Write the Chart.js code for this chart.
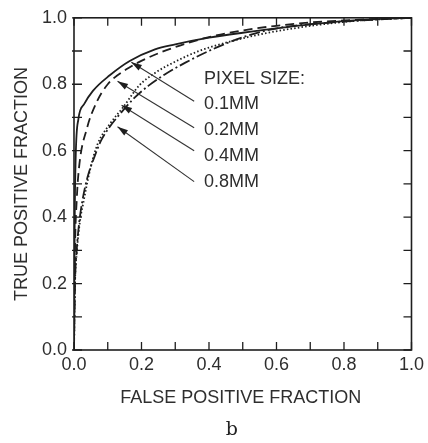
<!DOCTYPE html>
<html lang="en">
<head>
    <meta charset="UTF-8" />
    <title>ROC pixel size</title>
    <script src="https://cdn.jsdelivr.net/npm/chart.js"></script>
    <style>
        html, body { margin: 0; padding: 0; background: #fff; }
        .wrap { width: 428px; height: 443px; position: relative; }
    </style>
</head>
<body>
    <div class="wrap"><canvas id="rocChart"></canvas></div>

<script>
    // ROC curve points (false positive fraction, true positive fraction)
    const fpf01 = [0, 0.002, 0.005, 0.013, 0.03, 0.056, 0.106, 0.165, 0.24, 0.3, 0.4, 0.5, 0.6, 0.7, 0.8, 0.9, 1.0];
    const tpf01 = [0, 0.38, 0.58, 0.695, 0.74, 0.78, 0.827, 0.87, 0.905, 0.92, 0.94, 0.955, 0.968, 0.98, 0.99, 0.996, 1.0];

    const fpf02 = [0, 0.003, 0.008, 0.015, 0.038, 0.067, 0.1, 0.155, 0.22, 0.3, 0.4, 0.5, 0.6, 0.7, 0.8, 0.9, 1.0];
    const tpf02 = [0, 0.3, 0.45, 0.55, 0.666, 0.746, 0.8, 0.845, 0.88, 0.912, 0.942, 0.962, 0.976, 0.986, 0.992, 0.997, 1.0];

    const fpf04 = [0, 0.003, 0.008, 0.018, 0.027, 0.047, 0.07, 0.106, 0.145, 0.194, 0.243, 0.3, 0.37, 0.45, 0.55, 0.65, 0.75, 0.85, 1.0];
    const tpf04 = [0, 0.2, 0.29, 0.39, 0.44, 0.54, 0.62, 0.68, 0.73, 0.797, 0.836, 0.868, 0.9, 0.925, 0.95, 0.968, 0.982, 0.992, 1.0];

    const fpf08 = [0, 0.003, 0.008, 0.015, 0.025, 0.04, 0.06, 0.08, 0.106, 0.14, 0.175, 0.22, 0.27, 0.33, 0.41, 0.51, 0.61, 0.75, 0.9, 1.0];
    const tpf08 = [0, 0.2, 0.3, 0.38, 0.45, 0.52, 0.58, 0.63, 0.672, 0.715, 0.755, 0.795, 0.83, 0.865, 0.905, 0.945, 0.97, 0.985, 0.995, 1.0];

    const seriesLabels = ['0.1MM', '0.2MM', '0.4MM', '0.8MM'];
    const tickValues = [0, 0.1, 0.2, 0.3, 0.4, 0.5, 0.6, 0.7, 0.8, 0.9, 1.0];

    // arrows: tail and tip in data units
    const arrowTails = [[0.356, 0.749], [0.356, 0.669], [0.356, 0.6], [0.356, 0.507]];
    const arrowTips = [[0.17, 0.866], [0.129, 0.809], [0.141, 0.737], [0.129, 0.672]];
    const legendTitle = 'PIXEL SIZE:';
    const legendX = 0.385;
    const legendY = [0.816, 0.741, 0.663, 0.585, 0.505];

    const xTitle = 'FALSE POSITIVE FRACTION';
    const yTitle = 'TRUE POSITIVE FRACTION';
    const panelLabel = 'b';

    const ink = '#1e1e1e';
    const textColor = '#2e2e2e';
    const font = '"Liberation Sans", Arial, sans-serif';

    function pts(xs, ys) {
        return xs.map((x, i) => ({ x: x, y: ys[i] }));
    }

    const lineBase = {
        showLine: true,
        pointRadius: 0,
        borderColor: ink,
        borderWidth: 1.8,
        cubicInterpolationMode: 'monotone',
        fill: false
    };

    // frame, inward ticks, arrows, titles and the pixel size labels
    const decorations = {
        id: 'decorations',
        afterDraw(chart) {
            const c = chart.ctx;
            const xs = chart.scales.x, ys = chart.scales.y;
            const a = chart.chartArea;
            c.save();
            c.strokeStyle = ink;
            c.lineWidth = 1.6;
            c.strokeRect(a.left, a.top, a.right - a.left, a.bottom - a.top);

            c.lineWidth = 1.3;
            c.beginPath();
            tickValues.forEach(v => {
                const px = xs.getPixelForValue(v);
                const py = ys.getPixelForValue(v);
                c.moveTo(px, a.bottom); c.lineTo(px, a.bottom - 8);
                c.moveTo(px, a.top); c.lineTo(px, a.top + 8);
                c.moveTo(a.left - 2, py); c.lineTo(a.left + 8, py);
                c.moveTo(a.right, py); c.lineTo(a.right - 8, py);
            });
            c.stroke();

            c.strokeStyle = '#333';
            c.fillStyle = '#1e1e1e';
            c.lineWidth = 1.1;
            arrowTails.forEach((t, i) => {
                const x0 = xs.getPixelForValue(t[0]), y0 = ys.getPixelForValue(t[1]);
                const x1 = xs.getPixelForValue(arrowTips[i][0]), y1 = ys.getPixelForValue(arrowTips[i][1]);
                const ang = Math.atan2(y1 - y0, x1 - x0);
                c.beginPath();
                c.moveTo(x0, y0); c.lineTo(x1, y1);
                c.stroke();
                c.beginPath();
                c.moveTo(x1, y1);
                c.lineTo(x1 - 11 * Math.cos(ang - 0.3), y1 - 11 * Math.sin(ang - 0.3));
                c.lineTo(x1 - 11 * Math.cos(ang + 0.3), y1 - 11 * Math.sin(ang + 0.3));
                c.closePath();
                c.fill();
            });

            c.fillStyle = textColor;
            c.font = '18px ' + font;
            c.textBaseline = 'middle';
            c.textAlign = 'left';
            const lx = xs.getPixelForValue(legendX);
            c.fillText(legendTitle, lx, ys.getPixelForValue(legendY[0]));
            seriesLabels.forEach((s, i) => {
                c.fillText(s, lx, ys.getPixelForValue(legendY[i + 1]));
            });

            // axis titles
            c.textAlign = 'center';
            c.fillText(xTitle, (a.left + a.right) / 2 - 2, a.bottom + 48);
            c.save();
            c.translate(22, (a.top + a.bottom) / 2);
            c.rotate(-Math.PI / 2);
            c.fillText(yTitle, 0, 0);
            c.restore();

            c.fillStyle = '#222';
            c.font = '19px "DejaVu Serif", "Liberation Serif", serif';
            c.fillText(panelLabel, (a.left + a.right) / 2 - 11, a.bottom + 80);
            c.restore();
        }
    };

    const tickFmt = v => (Math.round(v * 10) % 2 === 0 ? v.toFixed(1) : null);

    new Chart(document.getElementById('rocChart'), {
        type: 'scatter',
        data: {
            datasets: [
                Object.assign({}, lineBase, { label: seriesLabels[0], data: pts(fpf01, tpf01) }),
                Object.assign({}, lineBase, { label: seriesLabels[1], data: pts(fpf02, tpf02), borderDash: [9, 5] }),
                Object.assign({}, lineBase, { label: seriesLabels[2], data: pts(fpf04, tpf04), borderDash: [1.5, 2.2] }),
                Object.assign({}, lineBase, { label: seriesLabels[3], data: pts(fpf08, tpf08), borderDash: [11, 3, 2, 3] })
            ]
        },
        options: {
            responsive: true,
            maintainAspectRatio: false,
            animation: false,
            layout: { padding: { left: 0, top: 15, right: 14, bottom: 0 } },
            plugins: {
                legend: { display: false },
                tooltip: { enabled: false },
                title: { display: false }
            },
            scales: {
                x: {
                    type: 'linear',
                    min: 0,
                    max: 1,
                    afterFit: s => { s.height = 93; },
                    grid: { display: false, drawTicks: false },
                    border: { display: false },
                    ticks: {
                        stepSize: 0.1,
                        autoSkip: false,
                        maxRotation: 0,
                        padding: 4,
                        color: textColor,
                        font: { family: font, size: 18 },
                        callback: tickFmt
                    }
                },
                y: {
                    type: 'linear',
                    min: 0,
                    max: 1,
                    afterFit: s => { s.width = 74; },
                    grid: { display: false, drawTicks: false },
                    border: { display: false },
                    ticks: {
                        stepSize: 0.1,
                        autoSkip: false,
                        padding: 7,
                        color: textColor,
                        font: { family: font, size: 18 },
                        callback: tickFmt
                    }
                }
            }
        },
        plugins: [decorations]
    });
</script>
</body>
</html>
